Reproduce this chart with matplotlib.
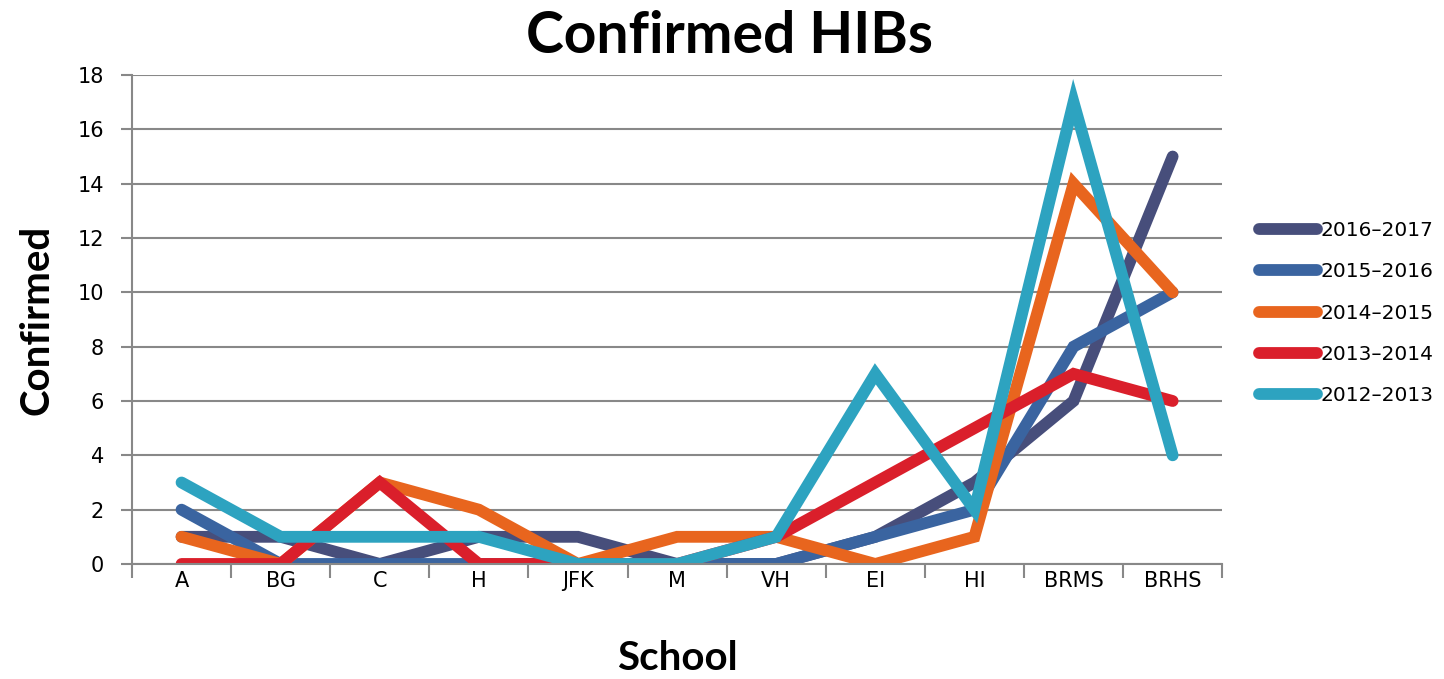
import matplotlib
matplotlib.use('Agg')
import matplotlib.pyplot as plt
import numpy as np

schools = ['A', 'BG', 'C', 'H', 'JFK', 'M', 'VH', 'EI', 'HI', 'BRMS', 'BRHS']

y2016_2017 = [1, 1, 0, 1, 1, 0, 0, 1, 3, 6, 15]
y2015_2016 = [2, 0, 0, 0, 0, 0, 0, 1, 2, 8, 10]
y2014_2015 = [1, 0, 3, 2, 0, 1, 1, 0, 1, 14, 10]
y2013_2014 = [0, 0, 3, 0, 0, 0, 1, 3, 5, 7, 6]
y2012_2013 = [3, 1, 1, 1, 0, 0, 1, 7, 2, 17, 4]

series = [
    ('2016\u20132017', y2016_2017, '#474E7B'),
    ('2015\u20132016', y2015_2016, '#3A64A0'),
    ('2014\u20132015', y2014_2015, '#E8651E'),
    ('2013\u20132014', y2013_2014, '#DA1F2B'),
    ('2012\u20132013', y2012_2013, '#2DA3C0'),
]

plt.rcParams['font.family'] = ['DejaVu Sans']

fig = plt.figure(figsize=(14.44, 6.79), dpi=100)
ax = fig.add_axes([0.0914, 0.1694, 0.755, 0.7201])

x = np.arange(len(schools))
for name, vals, col in series:
    ax.plot(x, vals, color=col, lw=8.5, label=name,
            solid_capstyle='round', solid_joinstyle='miter')

ax.set_xlim(-0.5, len(schools) - 0.5)
ax.set_ylim(0, 18)
ax.set_yticks(np.arange(0, 19, 2))
ax.set_xticks(x)
ax.set_xticklabels(schools)
ax.set_xticks(np.arange(-0.5, len(schools), 1), minor=True)
ax.tick_params(axis='x', which='major', length=0, pad=5, labelsize=15)
ax.tick_params(axis='x', which='minor', length=10, width=1.5, color='#888888')
ax.tick_params(axis='y', length=8, width=1.5, color='#888888', pad=12, labelsize=15)

ax.grid(axis='y', color='#888888', lw=1.5)
ax.set_axisbelow(True)
for s in ['top', 'right']:
    ax.spines[s].set_visible(False)
for s in ['left', 'bottom']:
    ax.spines[s].set_color('#888888')
    ax.spines[s].set_linewidth(1.5)

fig.suptitle('Confirmed HIBs', x=0.505, y=0.985, fontsize=41, fontweight='bold',
             family='Lato')
ax.set_ylabel('Confirmed', fontsize=29, fontweight='bold', family='Lato', labelpad=16)
ax.set_xlabel('School', fontsize=29, fontweight='bold', family='Lato', labelpad=35)

leg = ax.legend(loc='center left', bbox_to_anchor=(1.026, 0.513), frameon=False,
                fontsize=14.5, handlelength=2.9, handletextpad=0.15,
                labelspacing=1.1, borderaxespad=0)

fig.savefig('out.png', dpi=100)
